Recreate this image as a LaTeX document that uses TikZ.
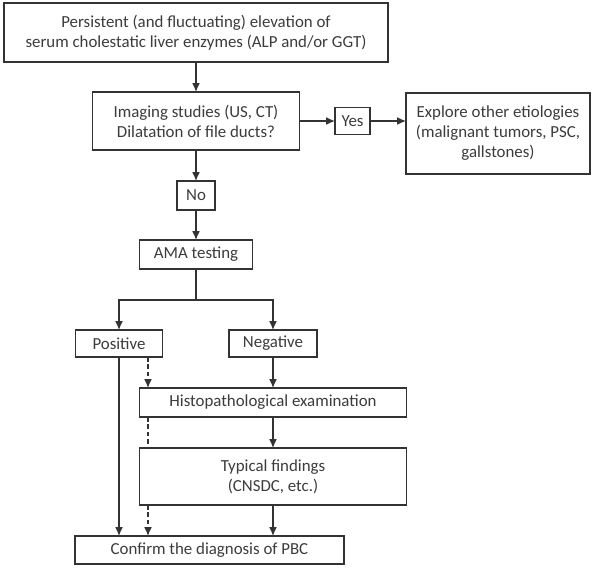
\documentclass[tikz,border=0pt]{standalone}
\usepackage{fontspec}
\setmainfont{Carlito}
\usepackage{tikz}
\usetikzlibrary{arrows.meta}
\usetikzlibrary{calc}
\usetikzlibrary{positioning}

\definecolor{linegray}{HTML}{333333}
\definecolor{textgray}{HTML}{3C3C3C}

\begin{document}
\begin{tikzpicture}[x=0.02cm, y=-0.02cm, >={Latex[length=5pt,width=4.5pt]}]
 				 \tikzstyle{box}=[draw=linegray, line width=0.9pt, fill=white, text=textgray, align=center, inner sep=0pt, outer sep=0pt, font=\fontsize{9.6}{11.4}\selectfont]
 				 \tikzstyle{link}=[draw=linegray, line width=0.9pt]
 				 \tikzstyle{dashlink}=[link, dash pattern=on 2.6pt off 1.6pt]
 				 \useasboundingbox (0,0) rectangle (594,569);
 					 \node[box, minimum width=7.68cm, minimum height=1.18cm] (top)   at (196,32.5)  {Persistent (and fluctuating) elevation of\\serum cholestatic liver enzymes (ALP and/or GGT)};
  					 \node[box, minimum width=4.14cm, minimum height=1.16cm] (img)   at (196,121) {Imaging studies (US, CT)\\Dilatation of file ducts?};
  					 \node[box, minimum width=0.70cm, minimum height=0.54cm] (yes)   at (352.5,121) {Yes};
  					 \node[box, minimum width=3.68cm, minimum height=1.62cm] (expl)  at (498,133.5) {Explore other etiologies\\(malignant tumors, PSC,\\gallstones)};
					 \node[box, minimum width=0.76cm, minimum height=0.58cm] (no)    at (196,195.5) {No};
					 \node[box, minimum width=2.26cm, minimum height=0.58cm] (ama)   at (196,254.5) {AMA testing};
					 \node[box, minimum width=1.74cm, minimum height=0.54cm] (pos)   at (119,343.5) {Positive};
  					 \node[box, minimum width=1.76cm, minimum height=0.54cm] (neg)   at (273,343.5) {Negative};
  					 \node[box, minimum width=5.34cm, minimum height=0.58cm] (histo) at (273,402.5) {Histopathological examination};
  					 \node[box, minimum width=5.34cm, minimum height=1.14cm] (typ)   at (273,476.5) {Typical findings\\(CNSDC, etc.)};
  					 \node[box, minimum width=5.38cm, minimum height=0.56cm] (conf)  at (209.5,550) {Confirm the diagnosis of PBC};
  					 \coordinate (split) at (196,300);
  					 \coordinate (dx) at (148,0);
 					  \draw[link,->] (top.south) -- (img.north);
 					  \draw[link,->] (img.east) -- (yes.west);
 					  \draw[link,->] (yes.east) -- (yes.east -| expl.west);
 					  \draw[link,->] (img.south) -- (no.north);
 					  \draw[link,->] (no.south) -- (ama.north);
 					  \draw[link,->] (ama.south) -- (split) -| (pos.north);
 					  \draw[link,->] (split) -| (neg.north);
 					  \draw[link,->] (pos.south) -- (pos.south |- conf.north);
 					  \draw[link,->] (neg.south) -- (histo.north);
 					  \draw[link,->] (histo.south) -- (typ.north);
 					  \draw[link,->] (typ.south) -- (typ.south |- conf.north);
 					  \draw[dashlink,->] (pos.south -| dx) -- (histo.north -| dx);
 					  \draw[dashlink] (histo.south -| dx) -- (typ.north -| dx);
 					  \draw[dashlink,->] (typ.south -| dx) -- (conf.north -| dx);
				\end{tikzpicture}
\end{document}
